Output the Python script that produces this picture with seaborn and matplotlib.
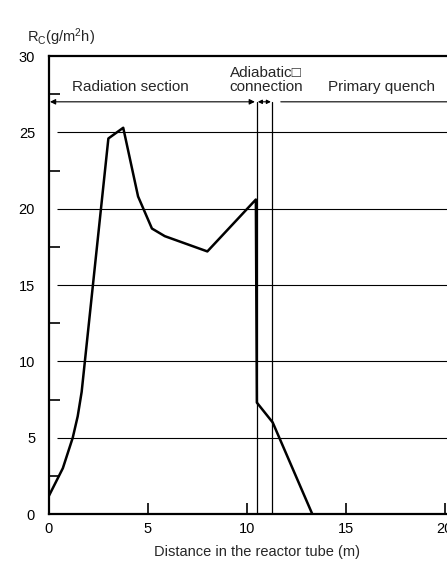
import numpy as np
import pandas as pd
import seaborn as sns
import matplotlib.pyplot as plt
from matplotlib.ticker import MultipleLocator

# values
dist = [0.0, 0.7, 1.2, 1.45, 1.65, 3.0, 3.75, 4.5, 5.2, 5.85, 8.0, 10.45, 10.5, 11.3, 13.3]
rate = [1.2, 3.0, 5.0, 6.4, 8.0, 24.6, 25.3, 20.8, 18.7, 18.2, 17.2, 20.6, 7.3, 6.0, 0.0]
sections = ["Radiation section", "Adiabatic\u25a1\nconnection", "Primary quench"]
bounds = [0.0, 10.5, 11.26, 21.0]
grid_y = [5, 10, 15, 20, 25]
x_ticks = [0, 5, 10, 15, 20]
y_ticks = [0, 5, 10, 15, 20, 25, 30]

df = pd.DataFrame({"dist": dist, "rate": rate})

sns.set_style("white")
plt.rcParams['font.family'] = ['Liberation Sans', 'DejaVu Sans']
plt.rcParams['mathtext.fontset'] = 'custom'
plt.rcParams['mathtext.rm'] = 'Liberation Sans'
plt.rcParams['mathtext.it'] = 'Liberation Sans'

fig = plt.figure(figsize=(4.47, 5.63), dpi=100)
ax = fig.add_axes([0.1096, 0.087, 0.930, 0.8135])

# horizontal grid lines start after the tick marks
ax.hlines(grid_y, 0.4, 21, color='black', linewidth=0.8, zorder=1)

# section boundaries
for b in bounds[1:3]:
    ax.plot([b, b], [0, 27], color='black', linewidth=0.9, zorder=2)

sns.lineplot(data=df, x="dist", y="rate", ax=ax, sort=False, estimator=None,
             color='black', linewidth=1.8, zorder=3)

# section arrows
ay = 27
ax.annotate('', xy=(bounds[0] + 0.05, ay), xytext=(bounds[1] - 0.1, ay),
            arrowprops=dict(arrowstyle='<|-|>', color='black', lw=0.8,
                            mutation_scale=8, shrinkA=0, shrinkB=0))
ax.annotate('', xy=(bounds[1] + 0.05, ay), xytext=(bounds[2] - 0.05, ay),
            arrowprops=dict(arrowstyle='<|-|>', color='black', lw=0.8,
                            mutation_scale=6, shrinkA=0, shrinkB=0))
ax.annotate('', xy=(bounds[2] + 0.45, ay), xytext=(bounds[3], ay),
            arrowprops=dict(arrowstyle='<|-', color='black', lw=0.8,
                            mutation_scale=8, shrinkA=0, shrinkB=0))

ax.text(4.1, ay + 0.5, sections[0], ha='center', va='bottom', fontsize=11)
ax.text(10.95, ay + 0.5, sections[1], ha='center', va='bottom', fontsize=11,
        linespacing=1.0)
ax.text(16.8, ay + 0.5, sections[2], ha='center', va='bottom', fontsize=11)

ax.set_xlim(0, 21)
ax.set_ylim(0, 30)
ax.set_xticks(x_ticks)
ax.set_yticks(y_ticks)
ax.yaxis.set_minor_locator(MultipleLocator(2.5))
ax.tick_params(axis='both', which='both', direction='in', length=8, width=1.2,
               labelsize=10.5, colors='black')
ax.tick_params(axis='x', pad=6)
ax.tick_params(axis='y', pad=10)
ax.tick_params(axis='y', which='minor', left=True)
ax.tick_params(axis='x', which='major', bottom=True)

for s in ['left', 'top', 'bottom']:
    ax.spines[s].set_linewidth(1.6)
    ax.spines[s].set_color('black')
ax.spines['right'].set_visible(False)

ax.set_xlabel("Distance in the reactor tube (m)", fontsize=10.5, labelpad=6)
ax.set_ylabel("")
fig.text(0.06, 0.915, r"R$_\mathrm{C}$(g/m$^2$h)", fontsize=10.5, ha='left', va='bottom')

fig.savefig("out.png", dpi=100)
